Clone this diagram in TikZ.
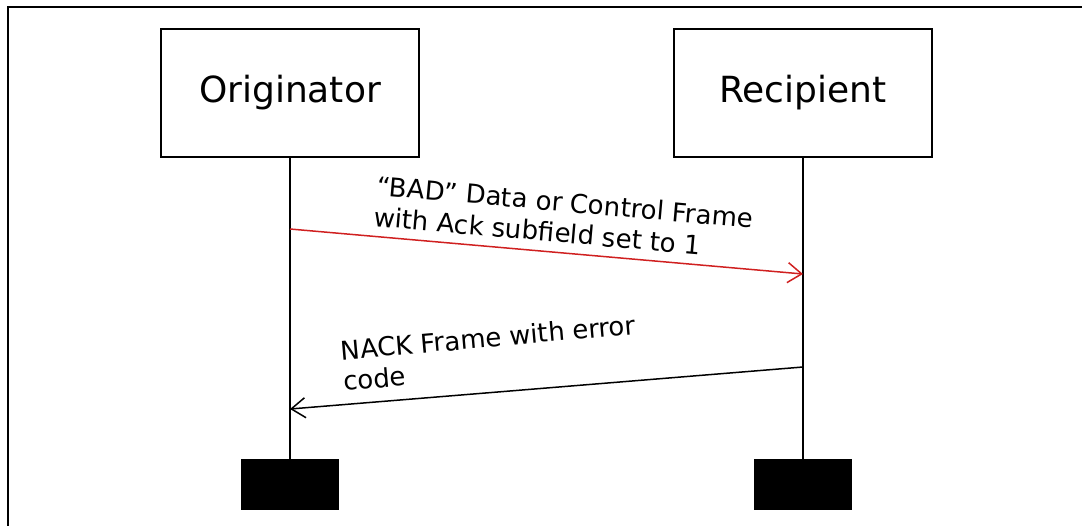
\documentclass[tikz,border=0pt]{standalone}
\usepackage{fontspec}
\setmainfont{DejaVu Sans}
\usetikzlibrary{arrows.meta}
\definecolor{msgred}{RGB}{208,32,32}
\begin{document}
\begin{tikzpicture}[x=0.5pt, y=-0.5pt,
    party/.style = {draw, line width=1pt, minimum width=129pt, minimum height=64pt,
                    font=\fontsize{18}{20}\selectfont},
    endbox/.style = {fill=black, inner sep=0pt, minimum width=49pt, minimum height=25.5pt},
    msg/.style = {line width=0.75pt, -{Straight Barb[length=7pt, width=10pt]}},
    msglabel/.style = {align=left, anchor=base west, inner sep=0pt,
                       font=\fontsize{13}{14}\selectfont}]
        \useasboundingbox (0, 0) rectangle (1082, 525);
        \draw[line width=1.1pt] (8, 526) -- (8, 7) -- (1083, 7);
        \node[party] (orig) at (290, 93) {Originator};
        \node[party] (recp) at (803, 93) {Recipient};
        \node[endbox] (origend) at (290, 484.5) {};
        \node[endbox] (recpend) at (803, 484.5) {};
        \draw[line width=1pt] (orig) -- (origend);
        \draw[line width=1pt] (recp) -- (recpend);
        \coordinate (o1) at (290, 229);
        \coordinate (r1) at (803, 274);
        \coordinate (r2) at (803, 367);
        \coordinate (o2) at (290, 409);
        \draw[msg, msgred] (o1) -- (r1);
        \node[msglabel, rotate=-5] (badlbl) at (373, 226) {“BAD” Data or Control Frame\\[1.5pt]with Ack subfield set to 1};
        \draw[msg] (r2) -- (o2);
        \node[msglabel, rotate=5] (nacklbl) at (344, 391) {NACK Frame with error\\[1.5pt]code};
    \end{tikzpicture}
\end{document}
